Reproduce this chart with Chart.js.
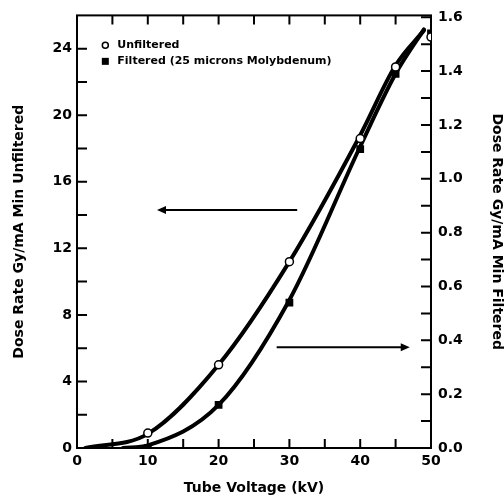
<!DOCTYPE html>
<html>
<head>
<meta charset="utf-8">
<script src="https://cdn.jsdelivr.net/npm/chart.js@4.4.1/dist/chart.umd.min.js"></script>
<style>
  html, body { margin: 0; padding: 0; background: #fff; }
  #wrap { width: 504px; height: 497px; }
</style>
</head>
<body>
<div id="wrap"><canvas id="chart" width="504" height="497"></canvas></div>
<script>
// measured points
const voltage = [10, 20, 30, 40, 45, 50];
const unfiltered = [0.9, 5.0, 11.2, 18.6, 22.9, 24.7];
const filtered = [0.0, 0.16, 0.54, 1.11, 1.39, 1.54];

// hand-fitted curves as drawn on the figure
const unfilteredCurveX = [1.2, 10, 20, 30, 40, 45, 49];
const unfilteredCurveY = [0, 0.85, 5.0, 11.2, 18.8, 23.0, 25.1];
const filteredCurveX = [6.5, 10, 20, 30, 40, 45, 49];
const filteredCurveY = [0, 0.01, 0.16, 0.55, 1.12, 1.39, 1.555];

const xTicks = [0, 5, 10, 15, 20, 25, 30, 35, 40, 45, 50];
const leftTicks = [0, 2, 4, 6, 8, 10, 12, 14, 16, 18, 20, 22, 24];
const rightTicks = [0, 0.1, 0.2, 0.3, 0.4, 0.5, 0.6, 0.7, 0.8, 0.9, 1.0, 1.1, 1.2, 1.3, 1.4, 1.5, 1.6];

const legendLabels = ["Unfiltered", "Filtered (25 microns Molybdenum)"];

// arrows pointing to the axis each curve belongs to (data units)
const arrows = [
  { axis: "y", at: 14.3, from: 31.1, to: 11.3 },
  { axis: "y1", at: 0.374, from: 28.2, to: 47.0 },
];

const pts = (xs, ys) => xs.map((x, i) => ({ x, y: ys[i] }));
const tickFont = { family: "DejaVu Sans", weight: "bold", size: 14 };
const titleFont = { family: "DejaVu Sans", weight: "bold", size: 14, lineHeight: 1 };

const framePlugin = {
  id: "frame",
  beforeDatasetsDraw(chart) {
    const { ctx, chartArea: a, scales } = chart;
    ctx.save();
    ctx.strokeStyle = "#000";
    ctx.lineWidth = 2;
    ctx.strokeRect(a.left, a.top, a.right - a.left, a.bottom - a.top);
    ctx.beginPath();
    xTicks.slice(1, -1).forEach((v) => {
      const px = scales.x.getPixelForValue(v);
      ctx.moveTo(px, a.bottom); ctx.lineTo(px, a.bottom - 9);
      ctx.moveTo(px, a.top); ctx.lineTo(px, a.top + 9);
    });
    leftTicks.slice(1).forEach((v) => {
      const py = scales.y.getPixelForValue(v);
      ctx.moveTo(a.left, py); ctx.lineTo(a.left + 10, py);
    });
    rightTicks.slice(1).forEach((v) => {
      const py = scales.y1.getPixelForValue(v);
      ctx.moveTo(a.right, py); ctx.lineTo(a.right - 10, py);
    });
    ctx.stroke();
    ctx.restore();
  },
  afterDatasetsDraw(chart) {
    const { ctx, scales } = chart;
    ctx.save();
    ctx.fillStyle = "#000";
    ctx.strokeStyle = "#000";

    // arrows
    arrows.forEach((ar) => {
      const y = scales[ar.axis].getPixelForValue(ar.at);
      const x0 = scales.x.getPixelForValue(ar.from);
      const x1 = scales.x.getPixelForValue(ar.to);
      const dir = Math.sign(x1 - x0);
      ctx.lineWidth = 2;
      ctx.beginPath();
      ctx.moveTo(x0, y);
      ctx.lineTo(x1 - dir * 6, y);
      ctx.stroke();
      ctx.beginPath();
      ctx.moveTo(x1, y);
      ctx.lineTo(x1 - dir * 9, y - 4);
      ctx.lineTo(x1 - dir * 9, y + 4);
      ctx.closePath();
      ctx.fill();
    });

    // legend
    const lx = scales.x.getPixelForValue(4);
    const ly = scales.y.getPixelForValue(24.2);
    ctx.font = "bold 11px 'DejaVu Sans'";
    ctx.textBaseline = "middle";
    ctx.lineWidth = 1.5;
    ctx.fillStyle = "#fff";
    ctx.beginPath();
    ctx.arc(lx, ly, 3, 0, Math.PI * 2);
    ctx.fill();
    ctx.stroke();
    ctx.fillStyle = "#000";
    ctx.fillRect(lx - 3.5, ly + 16 - 3.5, 7, 7);
    ctx.fillText(legendLabels[0], lx + 12, ly);
    ctx.fillText(legendLabels[1], lx + 12, ly + 16);
    ctx.restore();
  },
};

new Chart(document.getElementById("chart"), {
  type: "line",
  data: {
    datasets: [
      {
        label: legendLabels[0],
        data: pts(voltage, unfiltered),
        yAxisID: "y",
        showLine: false,
        order: 0,
        pointStyle: "circle",
        pointRadius: 4,
        pointBorderWidth: 1.5,
        pointBackgroundColor: "#fff",
        pointBorderColor: "#000",
      },
      {
        label: legendLabels[1],
        data: pts(voltage, filtered),
        yAxisID: "y1",
        showLine: false,
        order: 1,
        pointStyle: "rect",
        pointRadius: 5.5,
        pointBorderWidth: 0,
        pointBackgroundColor: "#000",
        pointBorderColor: "#000",
      },
      {
        data: pts(unfilteredCurveX, unfilteredCurveY),
        yAxisID: "y",
        order: 2,
        borderColor: "#000",
        borderWidth: 4,
        pointRadius: 0,
        cubicInterpolationMode: "monotone",
        borderCapStyle: "round",
      },
      {
        data: pts(filteredCurveX, filteredCurveY),
        yAxisID: "y1",
        order: 3,
        borderColor: "#000",
        borderWidth: 4,
        pointRadius: 0,
        cubicInterpolationMode: "monotone",
        borderCapStyle: "round",
      },
    ],
  },
  options: {
    responsive: false,
    animation: false,
    layout: { padding: { top: 14, left: 0, right: 0, bottom: 0 } },
    plugins: { legend: { display: false }, tooltip: { enabled: false } },
    scales: {
      x: {
        type: "linear",
        min: 0,
        max: 50,
        afterBuildTicks: (s) => { s.ticks = xTicks.map((value) => ({ value })); },
        afterFit: (s) => { s.height = 49; },
        grid: { display: false, drawTicks: false },
        border: { display: false },
        ticks: {
          autoSkip: false,
          maxRotation: 0,
          padding: 5,
          color: "#000",
          font: tickFont,
          callback: (v) => (v % 10 === 0 ? v : ""),
        },
        title: { display: true, text: "Tube Voltage (kV)", color: "#000", font: titleFont, padding: { top: 0, bottom: 2 } },
      },
      y: {
        position: "left",
        min: 0,
        max: 26,
        afterBuildTicks: (s) => { s.ticks = leftTicks.map((value) => ({ value })); },
        afterFit: (s) => { s.width = 77; },
        grid: { display: false, drawTicks: false },
        border: { display: false },
        ticks: {
          autoSkip: false,
          padding: 5,
          color: "#000",
          font: tickFont,
          callback: (v) => (v % 4 === 0 ? v : ""),
        },
        title: { display: true, text: "Dose Rate Gy/mA Min Unfiltered", color: "#000", font: titleFont, padding: { top: 12, bottom: 0 } },
      },
      y1: {
        position: "right",
        min: 0,
        max: 1.607,
        afterBuildTicks: (s) => { s.ticks = rightTicks.map((value) => ({ value })); },
        afterFit: (s) => { s.width = 73; },
        grid: { display: false, drawTicks: false },
        border: { display: false },
        ticks: {
          autoSkip: false,
          padding: 7,
          color: "#000",
          font: tickFont,
          callback: (v) => (Math.round(v * 10) % 2 === 0 ? v.toFixed(1) : ""),
        },
        title: { display: true, text: "Dose Rate Gy/mA Min Filtered", color: "#000", font: titleFont, padding: { top: 0, bottom: 0 } },
      },
    },
  },
  plugins: [framePlugin],
});
</script>
</body>
</html>
